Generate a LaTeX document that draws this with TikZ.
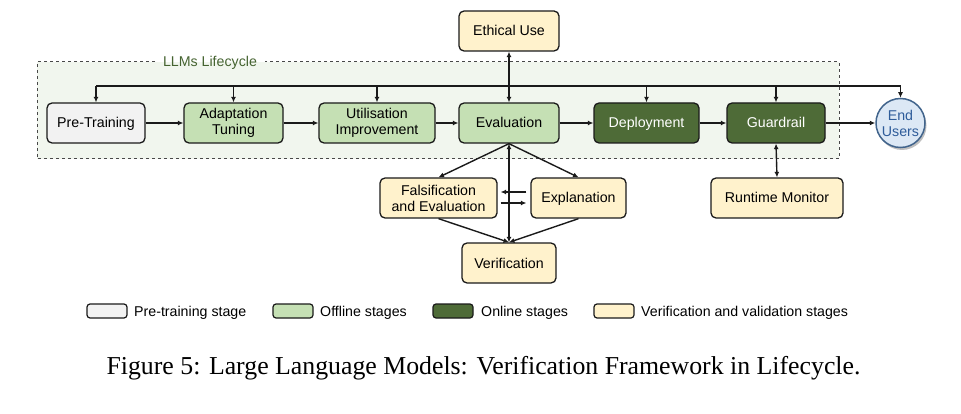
\documentclass[tikz,border=0pt]{standalone}
\usepackage{fontspec}
\setmainfont{Liberation Sans}
\newfontfamily\capfont{Liberation Serif}
\usetikzlibrary{arrows.meta}
\definecolor{pregrey}{HTML}{F2F2F2}
\definecolor{offgreen}{HTML}{C5E0B4}
\definecolor{ongreen}{HTML}{4E6B37}
\definecolor{vvyellow}{HTML}{FFF2CC}
\definecolor{lifebg}{HTML}{F1F6EE}
\definecolor{lifetext}{HTML}{456330}
\definecolor{userfill}{HTML}{DCE8F5}
\definecolor{userdraw}{HTML}{41648C}
\definecolor{usertext}{HTML}{2E5C9A}
\definecolor{edgec}{HTML}{1A1A1A}
\tikzset{
  stagebox/.style={draw=edgec, line width=1.3pt, rounded corners=5pt, minimum height=40pt,
    align=center, inner sep=1pt, font=\fontsize{14.2}{16}\selectfont},
  oneline/.style={text height=10pt, text depth=0pt},
  conn/.style={draw=edgec, line width=1.4pt, -{Latex[length=5.5pt,width=5pt]}},
  biconn/.style={draw=edgec, line width=1.4pt, {Latex[length=5.5pt,width=5pt]}-{Latex[length=5.5pt,width=5pt]}},
  plainline/.style={draw=edgec, line width=1.4pt},
  swatch/.style={draw=edgec, line width=1.2pt, rounded corners=3pt, minimum width=40pt, minimum height=14pt, inner sep=0pt},
  legtext/.style={anchor=west, inner sep=0pt, text height=10pt, text depth=0pt, font=\fontsize{14.2}{16}\selectfont}
}
\begin{document}
\begin{tikzpicture}[x=1pt,y=-1pt]
\useasboundingbox (0,0) rectangle (961,414);
% lifecycle frame
\fill[lifebg] (37,62) rectangle (839,159);
\draw[edgec!80, line width=1pt, dashed] (155,62) -- (37,62) -- (37,159) -- (839,159) -- (839,62) -- (265,62);
\node[text=lifetext, font=\fontsize{14.2}{16}\selectfont, inner sep=0pt, text height=10pt, text depth=0pt] (lifelabel) at (210,62) {LLMs Lifecycle};

% main stages
\node[stagebox, oneline, fill=pregrey, minimum width=98pt] (pre) at (96,123) {Pre-Training};
\node[stagebox, fill=offgreen, minimum width=99pt] (adapt) at (233.5,123) {Adaptation\\Tuning};
\node[stagebox, fill=offgreen, minimum width=116pt] (util) at (377,123) {Utilisation\\Improvement};
\node[stagebox, oneline, fill=offgreen, minimum width=100pt] (eval) at (509,123) {Evaluation};
\node[stagebox, oneline, fill=ongreen, text=white, minimum width=105pt] (deploy) at (646.5,123) {Deployment};
\node[stagebox, oneline, fill=ongreen, text=white, minimum width=98pt] (guard) at (776,123) {Guardrail};
\fill[black!25] (902,125.5) circle (24.5pt);
\node[circle, draw=userdraw, line width=1.5pt, fill=userfill, text=usertext, minimum size=49pt, inner sep=0pt,
  align=center, font=\fontsize{14.2}{16}\selectfont] (users) at (900.5,123) {End\\Users};

% V&V stages
\node[stagebox, oneline, fill=vvyellow, minimum width=100pt] (ethic) at (509,31) {Ethical Use};
\node[stagebox, fill=vvyellow, minimum width=117pt] (fals) at (438.5,198) {Falsification\\and Evaluation};
\node[stagebox, oneline, fill=vvyellow, minimum width=95pt] (expl) at (578.5,198) {Explanation};
\node[stagebox, oneline, fill=vvyellow, minimum width=94pt] (verif) at (509,263) {Verification};
\node[stagebox, oneline, fill=vvyellow, minimum width=132pt] (runtime) at (777,198) {Runtime Monitor};

% main flow
\draw[conn] (pre) -- (adapt);
\draw[conn] (adapt) -- (util);
\draw[conn] (util) -- (eval);
\draw[conn] (eval) -- (deploy);
\draw[conn] (deploy) -- (guard);
\draw[conn] (guard) -- (users);

% feedback bus
\coordinate (busL) at (96,86);
\coordinate (busR) at (900.5,86);
\draw[plainline] (busL) -- (busR);
\draw[conn] (busL) -- (pre.north);
\draw[conn] (adapt.north |- busL) -- (adapt.north);
\draw[conn] (util.north |- busL) -- (util.north);
\draw[conn] (deploy.north |- busL) -- (deploy.north);
\draw[conn] (guard.north |- busL) -- (guard.north);
\draw[conn] (busR) -- (users.north);
\draw[biconn] (eval.north) -- (ethic.south);

% V&V connections
\draw[conn] (eval.south) -- (fals.north);
\draw[conn] (eval.south) -- (expl.north);
\draw[biconn] (verif.north) -- (eval.south);
\draw[conn] (fals.south) -- (verif.north);
\draw[conn] (expl.south) -- (verif.north);
\draw[conn, shorten <=4pt, shorten >=3pt] ([yshift=6pt]expl.west) -- ([yshift=6pt]fals.east);
\draw[conn, shorten <=3pt, shorten >=4pt] ([yshift=-5pt]fals.east) -- ([yshift=-5pt]expl.west);
\draw[biconn] (guard.south) -- (runtime.north);

% legend
\node[swatch, fill=pregrey] (lg1) at (107,311) {};
\node[legtext] (lt1) at (134,311) {Pre-training stage};
\node[swatch, fill=offgreen] (lg2) at (293,311) {};
\node[legtext] (lt2) at (320,311) {Offline stages};
\node[swatch, fill=ongreen] (lg3) at (453,311) {};
\node[legtext] (lt3) at (481,311) {Online stages};
\node[swatch, fill=vvyellow] (lg4) at (614,311) {};
\node[legtext] (lt4) at (641,311) {Verification and validation stages};

% caption
\node[font=\capfont\fontsize{25.8}{30}\selectfont, inner sep=0pt] (caption) at (483.5,368) {Figure 5: Large Language Models: Verification Framework in Lifecycle.};
\end{tikzpicture}
\end{document}
